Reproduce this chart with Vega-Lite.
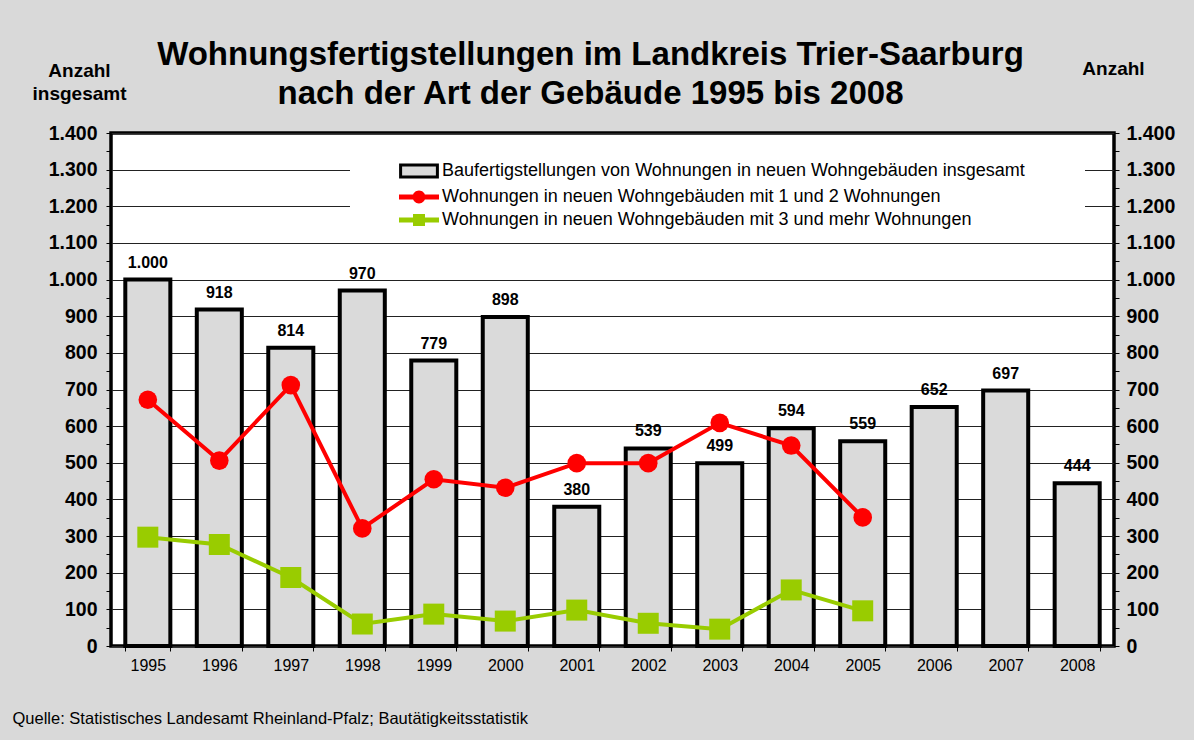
{
  "$schema": "https://vega.github.io/schema/vega-lite/v6.json",
  "width": 1003,
  "height": 513,
  "autosize": {"type": "none"},
  "padding": {"left": 111, "top": 133, "right": 80, "bottom": 94},
  "background": "#d9d9d9",
  "title": {
    "text": ["Wohnungsfertigstellungen im Landkreis Trier-Saarburg", "nach der Art der Gebäude 1995 bis 2008"],
    "fontSize": 33,
    "fontWeight": "bold",
    "font": "Liberation Sans",
    "color": "black",
    "lineHeight": 39,
    "anchor": "middle",
    "frame": "group",
    "dx": -22,
    "offset": -52
  },
  "data": {
    "values": [
      {"Jahr": "1995", "Reihe": "Baufertigstellungen von Wohnungen in neuen Wohngebäuden insgesamt", "Anzahl": 1000},
      {"Jahr": "1996", "Reihe": "Baufertigstellungen von Wohnungen in neuen Wohngebäuden insgesamt", "Anzahl": 918},
      {"Jahr": "1997", "Reihe": "Baufertigstellungen von Wohnungen in neuen Wohngebäuden insgesamt", "Anzahl": 814},
      {"Jahr": "1998", "Reihe": "Baufertigstellungen von Wohnungen in neuen Wohngebäuden insgesamt", "Anzahl": 970},
      {"Jahr": "1999", "Reihe": "Baufertigstellungen von Wohnungen in neuen Wohngebäuden insgesamt", "Anzahl": 779},
      {"Jahr": "2000", "Reihe": "Baufertigstellungen von Wohnungen in neuen Wohngebäuden insgesamt", "Anzahl": 898},
      {"Jahr": "2001", "Reihe": "Baufertigstellungen von Wohnungen in neuen Wohngebäuden insgesamt", "Anzahl": 380},
      {"Jahr": "2002", "Reihe": "Baufertigstellungen von Wohnungen in neuen Wohngebäuden insgesamt", "Anzahl": 539},
      {"Jahr": "2003", "Reihe": "Baufertigstellungen von Wohnungen in neuen Wohngebäuden insgesamt", "Anzahl": 499},
      {"Jahr": "2004", "Reihe": "Baufertigstellungen von Wohnungen in neuen Wohngebäuden insgesamt", "Anzahl": 594},
      {"Jahr": "2005", "Reihe": "Baufertigstellungen von Wohnungen in neuen Wohngebäuden insgesamt", "Anzahl": 559},
      {"Jahr": "2006", "Reihe": "Baufertigstellungen von Wohnungen in neuen Wohngebäuden insgesamt", "Anzahl": 652},
      {"Jahr": "2007", "Reihe": "Baufertigstellungen von Wohnungen in neuen Wohngebäuden insgesamt", "Anzahl": 697},
      {"Jahr": "2008", "Reihe": "Baufertigstellungen von Wohnungen in neuen Wohngebäuden insgesamt", "Anzahl": 444},
      {"Jahr": "1995", "Reihe": "Wohnungen in neuen Wohngebäuden mit 1 und 2 Wohnungen", "Anzahl": 672},
      {"Jahr": "1996", "Reihe": "Wohnungen in neuen Wohngebäuden mit 1 und 2 Wohnungen", "Anzahl": 506},
      {"Jahr": "1997", "Reihe": "Wohnungen in neuen Wohngebäuden mit 1 und 2 Wohnungen", "Anzahl": 712},
      {"Jahr": "1998", "Reihe": "Wohnungen in neuen Wohngebäuden mit 1 und 2 Wohnungen", "Anzahl": 321},
      {"Jahr": "1999", "Reihe": "Wohnungen in neuen Wohngebäuden mit 1 und 2 Wohnungen", "Anzahl": 455},
      {"Jahr": "2000", "Reihe": "Wohnungen in neuen Wohngebäuden mit 1 und 2 Wohnungen", "Anzahl": 432},
      {"Jahr": "2001", "Reihe": "Wohnungen in neuen Wohngebäuden mit 1 und 2 Wohnungen", "Anzahl": 499},
      {"Jahr": "2002", "Reihe": "Wohnungen in neuen Wohngebäuden mit 1 und 2 Wohnungen", "Anzahl": 499},
      {"Jahr": "2003", "Reihe": "Wohnungen in neuen Wohngebäuden mit 1 und 2 Wohnungen", "Anzahl": 609},
      {"Jahr": "2004", "Reihe": "Wohnungen in neuen Wohngebäuden mit 1 und 2 Wohnungen", "Anzahl": 547},
      {"Jahr": "2005", "Reihe": "Wohnungen in neuen Wohngebäuden mit 1 und 2 Wohnungen", "Anzahl": 351},
      {"Jahr": "1995", "Reihe": "Wohnungen in neuen Wohngebäuden mit 3 und mehr Wohnungen", "Anzahl": 297},
      {"Jahr": "1996", "Reihe": "Wohnungen in neuen Wohngebäuden mit 3 und mehr Wohnungen", "Anzahl": 277},
      {"Jahr": "1997", "Reihe": "Wohnungen in neuen Wohngebäuden mit 3 und mehr Wohnungen", "Anzahl": 187},
      {"Jahr": "1998", "Reihe": "Wohnungen in neuen Wohngebäuden mit 3 und mehr Wohnungen", "Anzahl": 60},
      {"Jahr": "1999", "Reihe": "Wohnungen in neuen Wohngebäuden mit 3 und mehr Wohnungen", "Anzahl": 87},
      {"Jahr": "2000", "Reihe": "Wohnungen in neuen Wohngebäuden mit 3 und mehr Wohnungen", "Anzahl": 68},
      {"Jahr": "2001", "Reihe": "Wohnungen in neuen Wohngebäuden mit 3 und mehr Wohnungen", "Anzahl": 98},
      {"Jahr": "2002", "Reihe": "Wohnungen in neuen Wohngebäuden mit 3 und mehr Wohnungen", "Anzahl": 62},
      {"Jahr": "2003", "Reihe": "Wohnungen in neuen Wohngebäuden mit 3 und mehr Wohnungen", "Anzahl": 46},
      {"Jahr": "2004", "Reihe": "Wohnungen in neuen Wohngebäuden mit 3 und mehr Wohnungen", "Anzahl": 153},
      {"Jahr": "2005", "Reihe": "Wohnungen in neuen Wohngebäuden mit 3 und mehr Wohnungen", "Anzahl": 96}
    ]
  },
  "encoding": {
    "x": {
      "field": "Jahr",
      "type": "ordinal",
      "scale": {"paddingInner": 0.37, "paddingOuter": 0.2},
      "axis": {
        "title": "Quelle: Statistisches Landesamt Rheinland-Pfalz; Bautätigkeitsstatistik",
        "titleX": -99,
        "titleY": 77,
        "titleAlign": "left",
        "titleAnchor": "start",
        "titleBaseline": "alphabetic",
        "titleFontSize": 16.5,
        "titleFontWeight": "normal",
        "titleColor": "black",
        "labelAngle": 0,
        "labelFontSize": 16,
        "labelColor": "black",
        "labelPadding": 6,
        "tickBand": "extent",
        "tickSize": 5,
        "tickColor": "black",
        "domain": false,
        "grid": false
      }
    },
    "y": {
      "field": "Anzahl",
      "type": "quantitative",
      "scale": {"domain": [0, 1400], "nice": false},
      "axis": null
    }
  },
  "layer": [
    {
      "transform": [{"filter": "datum.Reihe === 'Baufertigstellungen von Wohnungen in neuen Wohngebäuden insgesamt'"}],
      "mark": {"type": "bar", "stroke": "black", "strokeWidth": 4, "strokeJoin": "miter", "opacity": 1},
      "encoding": {
        "y": {
          "field": "Anzahl",
          "type": "quantitative",
          "scale": {"domain": [0, 1400], "nice": false},
          "axis": {
            "orient": "left",
            "values": [0, 50, 100, 150, 200, 250, 300, 350, 400, 450, 500, 550, 600, 650, 700, 750, 800, 850, 900, 950, 1000, 1050, 1100, 1150, 1200, 1250, 1300, 1350, 1400],
            "format": ",d",
            "labelExpr": "datum.value % 100 === 0 ? datum.label : ''",
            "labelFontSize": 19.5,
            "labelFontWeight": "bold",
            "labelColor": "black",
            "labelPadding": 9,
            "labelFlush": false,
            "labelOverlap": false,
            "tickSize": 5,
            "tickColor": "black",
            "domain": false,
            "grid": true,
            "gridColor": "#222222",
            "gridWidth": 1,
            "gridOpacity": {"condition": {"test": "datum.value % 100 !== 0", "value": 0}, "value": 1},
            "title": ["Anzahl", "insgesamt"],
            "titleAngle": 0,
            "titleX": -32,
            "titleY": -57,
            "titleAlign": "center",
            "titleBaseline": "alphabetic",
            "titleFontSize": 19,
            "titleFontWeight": "bold",
            "titleColor": "black",
            "titleLineHeight": 23
          }
        },
        "color": {
          "field": "Reihe",
          "type": "nominal",
          "scale": {
            "domain": ["Baufertigstellungen von Wohnungen in neuen Wohngebäuden insgesamt", "Wohnungen in neuen Wohngebäuden mit 1 und 2 Wohnungen", "Wohnungen in neuen Wohngebäuden mit 3 und mehr Wohnungen"],
            "range": ["#dadada", "#ff0000", "#99cc00"]
          },
          "legend": {
            "orient": "none",
            "legendX": 239,
            "legendY": 23,
            "title": " ",
            "titleOrient": "right",
            "titlePadding": 53,
            "fillColor": "white",
            "strokeColor": "white",
            "padding": 6,
            "symbolSize": 256,
            "symbolOffset": 54,
            "symbolType": {"expr": "datum.index === 0 ? 'M-2.3,-0.75H2.3V0.75H-2.3Z' : datum.index === 1 ? 'M-2.5,-0.3H2.5V0.3H-2.5Z M-0.8,0A0.8,0.8 0 1,1 0.8,0A0.8,0.8 0 1,1 -0.8,0Z' : 'M-2.5,-0.3H2.5V0.3H-2.5Z M-0.75,-0.75H0.75V0.75H-0.75Z'"},
            "symbolStrokeColor": {"expr": "datum.index === 0 ? 'black' : 'transparent'"},
            "symbolStrokeWidth": {"expr": "datum.index === 0 ? 3 : 0"},
            "labelOffset": 14,
            "labelFontSize": 18,
            "labelColor": "black",
            "labelLimit": 800,
            "rowPadding": 5,
            "encode": {
              "symbols": {
                "fill": {
                  "condition": [
                    {"test": "datum.index === 0", "value": "#dadada"},
                    {"test": "datum.index === 1", "value": "#ff0000"}
                  ],
                  "value": "#99cc00"
                },
                "stroke": {"condition": {"test": "datum.index === 0", "value": "black"}, "value": "transparent"},
                "strokeWidth": {"condition": {"test": "datum.index === 0", "value": 3}, "value": 0},
                "opacity": {"value": 1}
              }
            }
          }
        }
      }
    },
    {
      "transform": [{"filter": "datum.Reihe === 'Wohnungen in neuen Wohngebäuden mit 1 und 2 Wohnungen'"}],
      "mark": {"type": "line", "color": "#ff0000", "strokeWidth": 4}
    },
    {
      "transform": [{"filter": "datum.Reihe === 'Wohnungen in neuen Wohngebäuden mit 3 und mehr Wohnungen'"}],
      "mark": {"type": "line", "color": "#99cc00", "strokeWidth": 4}
    },
    {
      "transform": [{"filter": "datum.Reihe === 'Wohnungen in neuen Wohngebäuden mit 1 und 2 Wohnungen'"}],
      "mark": {"type": "point", "shape": "circle", "filled": true, "size": 346, "color": "#ff0000", "opacity": 1}
    },
    {
      "transform": [{"filter": "datum.Reihe === 'Wohnungen in neuen Wohngebäuden mit 3 und mehr Wohnungen'"}],
      "mark": {"type": "point", "shape": "square", "filled": true, "size": 441, "color": "#99cc00", "opacity": 1}
    },
    {
      "transform": [{"filter": "datum.Reihe === 'Baufertigstellungen von Wohnungen in neuen Wohngebäuden insgesamt'"}],
      "mark": {"type": "text", "fontSize": 16, "fontWeight": "bold", "color": "black", "baseline": "alphabetic", "dy": -12},
      "encoding": {
        "text": {"field": "Anzahl", "type": "quantitative", "format": ",d"},
        "y": {
          "field": "Anzahl",
          "type": "quantitative",
          "scale": {"domain": [0, 1400], "nice": false},
          "axis": {
            "orient": "right",
            "values": [0, 50, 100, 150, 200, 250, 300, 350, 400, 450, 500, 550, 600, 650, 700, 750, 800, 850, 900, 950, 1000, 1050, 1100, 1150, 1200, 1250, 1300, 1350, 1400],
            "format": ",d",
            "labelExpr": "datum.value % 100 === 0 ? datum.label : ''",
            "labelFontSize": 19.5,
            "labelFontWeight": "bold",
            "labelColor": "black",
            "labelPadding": 7,
            "labelFlush": false,
            "labelOverlap": false,
            "tickSize": 5,
            "tickColor": "black",
            "domain": false,
            "grid": false,
            "title": "Anzahl",
            "titleAngle": 0,
            "titleX": -1,
            "titleY": -59,
            "titleAlign": "center",
            "titleBaseline": "alphabetic",
            "titleFontSize": 19,
            "titleFontWeight": "bold",
            "titleColor": "black"
          }
        }
      }
    }
  ],
  "resolve": {"axis": {"y": "independent"}},
  "config": {
    "font": "Liberation Sans",
    "locale": {"number": {"decimal": ",", "thousands": ".", "grouping": [3], "currency": ["", " €"]}},
    "view": {"fill": "white", "stroke": "black", "strokeWidth": 3.5}
  }
}
